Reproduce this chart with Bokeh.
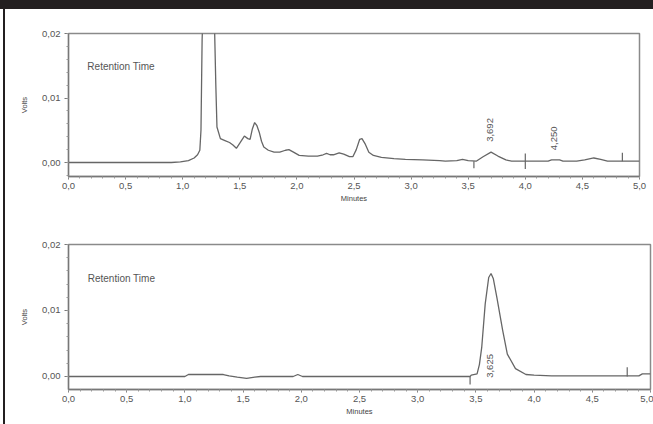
import math
from bokeh.plotting import figure
from bokeh.models import FixedTicker, Div, Label, ColumnDataSource, Range1d
from bokeh.layouts import column, row
from bokeh.core.properties import value
from bokeh.embed import file_html
from bokeh.resources import INLINE

# ---------------- data ----------------
top_t = [0.0, 0.9, 0.98, 1.05, 1.10, 1.13, 1.15, 1.16, 1.17, 1.19, 1.22, 1.25, 1.28, 1.29, 1.30,
         1.33, 1.37, 1.41, 1.44, 1.47, 1.50, 1.54, 1.57, 1.59, 1.61, 1.63, 1.65, 1.67, 1.69, 1.71,
         1.75, 1.80, 1.85, 1.90, 1.93, 1.97, 2.02, 2.10, 2.18, 2.23, 2.26, 2.29, 2.32, 2.37, 2.41,
         2.46, 2.49, 2.52, 2.55, 2.57, 2.60, 2.63, 2.67, 2.74, 2.85, 2.95, 3.10, 3.25, 3.30, 3.40,
         3.45, 3.50, 3.57, 3.63, 3.70, 3.76, 3.83, 3.88, 4.20, 4.23, 4.30, 4.33, 4.45, 4.52, 4.60,
         4.66, 4.72, 5.0]
top_v = [0.0, 0.0, 0.0001, 0.0003, 0.0007, 0.0012, 0.0019, 0.005, 0.019, 0.030, 0.034, 0.030, 0.020, 0.012, 0.0055,
         0.0037, 0.0034, 0.0031, 0.0027, 0.0022, 0.0030, 0.0041, 0.0037, 0.0036, 0.0052, 0.0062, 0.0057, 0.0047, 0.0033, 0.0024,
         0.0019, 0.0016, 0.0016, 0.0019, 0.0020, 0.0016, 0.0011, 0.0010, 0.0010, 0.0012, 0.0014, 0.0012, 0.0012, 0.0015, 0.0013,
         0.0009, 0.0009, 0.0020, 0.0036, 0.0037, 0.0028, 0.0016, 0.0011, 0.0008, 0.0006, 0.0005, 0.0004, 0.0003, 0.0002, 0.0003,
         0.0005, 0.0003, 0.0002, 0.0009, 0.0016, 0.0010, 0.0004, 0.0002, 0.0002, 0.0004, 0.0004, 0.0002, 0.0002, 0.0004, 0.0007,
         0.0005, 0.0002, 0.0002]

bot_t = [0.0, 1.00, 1.03, 1.33, 1.38, 1.45, 1.53, 1.60, 1.65, 1.93, 1.97, 2.01, 3.45, 3.46, 3.51,
         3.53, 3.55, 3.58, 3.61, 3.63, 3.65, 3.68, 3.73, 3.77, 3.84, 3.93, 4.0, 4.15, 4.40, 4.90,
         4.93, 5.0]
bot_v = [0.0, 0.0, 0.0003, 0.0003, 0.0001, -0.0001, -0.0003, -0.0001, 0.0, 0.0, 0.0003, 0.0, 0.0, 0.0002, 0.0004,
         0.0018, 0.0044, 0.0110, 0.0150, 0.0156, 0.0148, 0.0120, 0.0070, 0.0034, 0.0012, 0.0003, 0.0002, 0.0001, 0.0001, 0.0001,
         0.0004, 0.0004]

# peak labels (retention times)
top_peak_t = [3.695, 4.255]
top_peak_v = [0.0032, 0.0019]
top_peak_lbl = ["3,692", "4,250"]
bot_peak_t = [3.617]
bot_peak_v = [-0.0002]
bot_peak_lbl = ["3,625"]

# integration event markers
top_mark_t = [3.55, 4.0, 4.85]
top_mark_v0 = [0.0002, 0.0014, 0.0015]
top_mark_v1 = [-0.0009, -0.0010, 0.0002]
bot_mark_t = [3.45, 4.8]
bot_mark_v0 = [0.0, 0.0014]
bot_mark_v1 = [-0.0012, 0.0]

x_ticks = [0.0, 0.5, 1.0, 1.5, 2.0, 2.5, 3.0, 3.5, 4.0, 4.5, 5.0]
x_tick_labels = ["0,0", "0,5", "1,0", "1,5", "2,0", "2,5", "3,0", "3,5", "4,0", "4,5", "5,0"]
x_minor = [i / 10 for i in range(0, 51)]
y_ticks = [0.0, 0.01, 0.02]
y_tick_labels = ["0,00", "0,01", "0,02"]
y_minor = [-0.002, 0.0, 0.002, 0.004, 0.006, 0.008, 0.01, 0.012, 0.014, 0.016, 0.018, 0.02]

FONT = "Liberation Sans"
TXT = "#555555"
LINE = "#666666"


def make_fig(fw, fh, bl, br, bt, bb, ymin, t, v, pk_t, pk_v, pk_l, mk_t, mk_v0, mk_v1):
    p = figure(frame_width=fw, frame_height=fh, output_backend="svg", toolbar_location=None,
               x_range=Range1d(0, 5), y_range=Range1d(ymin, 0.02),
               min_border_left=bl, min_border_right=br, min_border_top=bt, min_border_bottom=bb)
    p.grid.visible = False
    p.background_fill_color = "white"
    p.border_fill_color = "white"
    p.outline_line_color = "#8a8a8a"
    p.outline_line_width = 1.5

    p.line(t, v, line_color=LINE, line_width=1.3)
    p.segment(x0=mk_t, y0=mk_v0, x1=mk_t, y1=mk_v1, line_color=LINE, line_width=1.2)
    src = ColumnDataSource(dict(x=pk_t, y=pk_v, text=pk_l))
    p.text(x="x", y="y", text="text", source=src, angle=math.pi / 2,
           text_align="left", text_baseline="middle", text_color=TXT,
           text_font=value(FONT), text_font_size="9.5px")

    p.add_layout(Label(x=0.165, y=0.0149, text="Retention Time", text_font=FONT,
                       text_font_size="10px", text_color=TXT, text_baseline="middle"))

    for ax in (p.xaxis[0], p.yaxis[0]):
        ax.axis_line_color = "#777777"
        ax.axis_line_width = 1.3
        ax.major_tick_line_color = "#777777"
        ax.minor_tick_line_color = "#999999"
        ax.major_label_text_font = FONT
        ax.major_label_text_color = TXT
        ax.major_label_text_font_size = "9.5px"
        ax.axis_label_text_font = FONT
        ax.axis_label_text_color = "#444444"
        ax.axis_label_text_font_style = "normal"
        ax.axis_label_text_font_size = "7.5px"

    xa = p.xaxis[0]
    xa.ticker = FixedTicker(ticks=x_ticks, minor_ticks=x_minor)
    xa.major_label_overrides = dict(zip(x_ticks, x_tick_labels))
    xa.major_tick_out = 3
    xa.major_tick_in = 0
    xa.minor_tick_out = 2
    xa.minor_tick_in = 0
    xa.major_label_standoff = 3
    xa.axis_label = "Minutes"
    xa.axis_label_standoff = 2

    ya = p.yaxis[0]
    ya.ticker = FixedTicker(ticks=y_ticks, minor_ticks=y_minor)
    ya.major_label_overrides = dict(zip(y_ticks, y_tick_labels))
    ya.major_label_orientation = "horizontal"
    ya.major_tick_out = 4
    ya.major_tick_in = 0
    ya.minor_tick_out = 2
    ya.minor_tick_in = 0
    ya.major_label_standoff = 4
    ya.axis_label = "Volts"
    ya.axis_label_standoff = 10
    return p


p1 = make_fig(571, 143, 63, 14, 24, 36, -0.00217, top_t, top_v,
              top_peak_t, top_peak_v, top_peak_lbl, top_mark_t, top_mark_v0, top_mark_v1)
p2 = make_fig(582, 145, 63, 3, 32, 35, -0.00197, bot_t, bot_v,
              bot_peak_t, bot_peak_v, bot_peak_lbl, bot_mark_t, bot_mark_v0, bot_mark_v1)

bar = Div(text="", width=653, height=9, margin=0, styles={"background-color": "#231f20"})
strip = Div(text="", width=2, height=415, margin=(0, 0, 0, 3), styles={"background-color": "#231f20"})
layout = column(bar, row(strip, column(row(p1), row(p2), spacing=0), spacing=0), spacing=0)

open("out.html", "w").write(file_html(layout, INLINE))
